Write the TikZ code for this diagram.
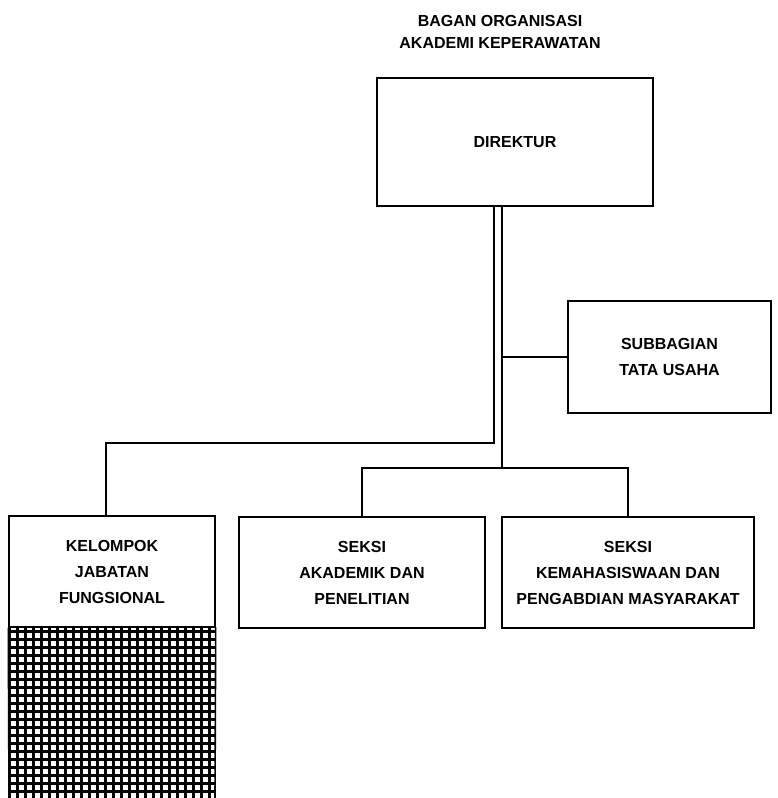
\documentclass[tikz,border=0pt]{standalone}
\usepackage{fontspec}
\setmainfont{Liberation Sans}
\tikzset{
    unitbox/.style={draw, line width=1.4pt, align=center, inner sep=0pt,
        font=\fontsize{16}{26}\selectfont\bfseries},
    link/.style={line width=1.6pt},
    gridline/.style={line width=3pt}
}
\begin{document}
\begin{tikzpicture}[x=1pt,y=-1pt]
        % Fix the page size
        \useasboundingbox (0,0) rectangle (777,798);
        % Draw title
        \node[align=center, font=\fontsize{16}{22}\selectfont\bfseries] (title) at (500,31.5) {
            BAGAN ORGANISASI\\
            AKADEMI KEPERAWATAN
        };
        % Draw boxes
        \node[unitbox, minimum width=276pt, minimum height=128pt] (direktur) at (515,142) {DIREKTUR};
        \node[unitbox, minimum width=203pt, minimum height=112pt] (subbagian) at (669.5,357) {SUBBAGIAN\\TATA USAHA};
        \node[unitbox, minimum width=206pt, minimum height=111pt] (kelompok) at (112,571.5) {KELOMPOK\\JABATAN\\FUNGSIONAL};
        \node[unitbox, minimum width=246pt, minimum height=111pt] (seksiakad) at (362,572.5) {SEKSI\\AKADEMIK DAN\\PENELITIAN};
        \node[unitbox, minimum width=252pt, minimum height=111pt] (seksimhs) at (628,572.5) {SEKSI\\KEMAHASISWAAN DAN\\PENGABDIAN MASYARAKAT};
        % Draw connectors
        \coordinate (leftbus) at (494,443);
        \coordinate (midbus) at (502,468);
        \draw[link] (direktur.south -| leftbus) -- (leftbus) -| ([xshift=-6pt]kelompok.north);
        \draw[link] (direktur.south -| midbus) -- (midbus);
        \draw[link] (subbagian.west) -- (subbagian.west -| midbus);
        \draw[link] (seksiakad.north) |- (midbus) -| (seksimhs.north);
        % Draw grid below kelompok
        \begin{scope}
            \clip (kelompok.south west) rectangle (215,798);
            \foreach \gx in {9,17,...,217}
                \draw[gridline] (\gx,627) -- (\gx,798);
            \foreach \gy in {631,639,...,799}
                \draw[gridline] (9,\gy) -- (215,\gy);
        \end{scope}
        \draw[link] (kelompok.south west) -- (9,798);
        \draw[link] (kelompok.south east) -- (215,798);
    \end{tikzpicture}
\end{document}
